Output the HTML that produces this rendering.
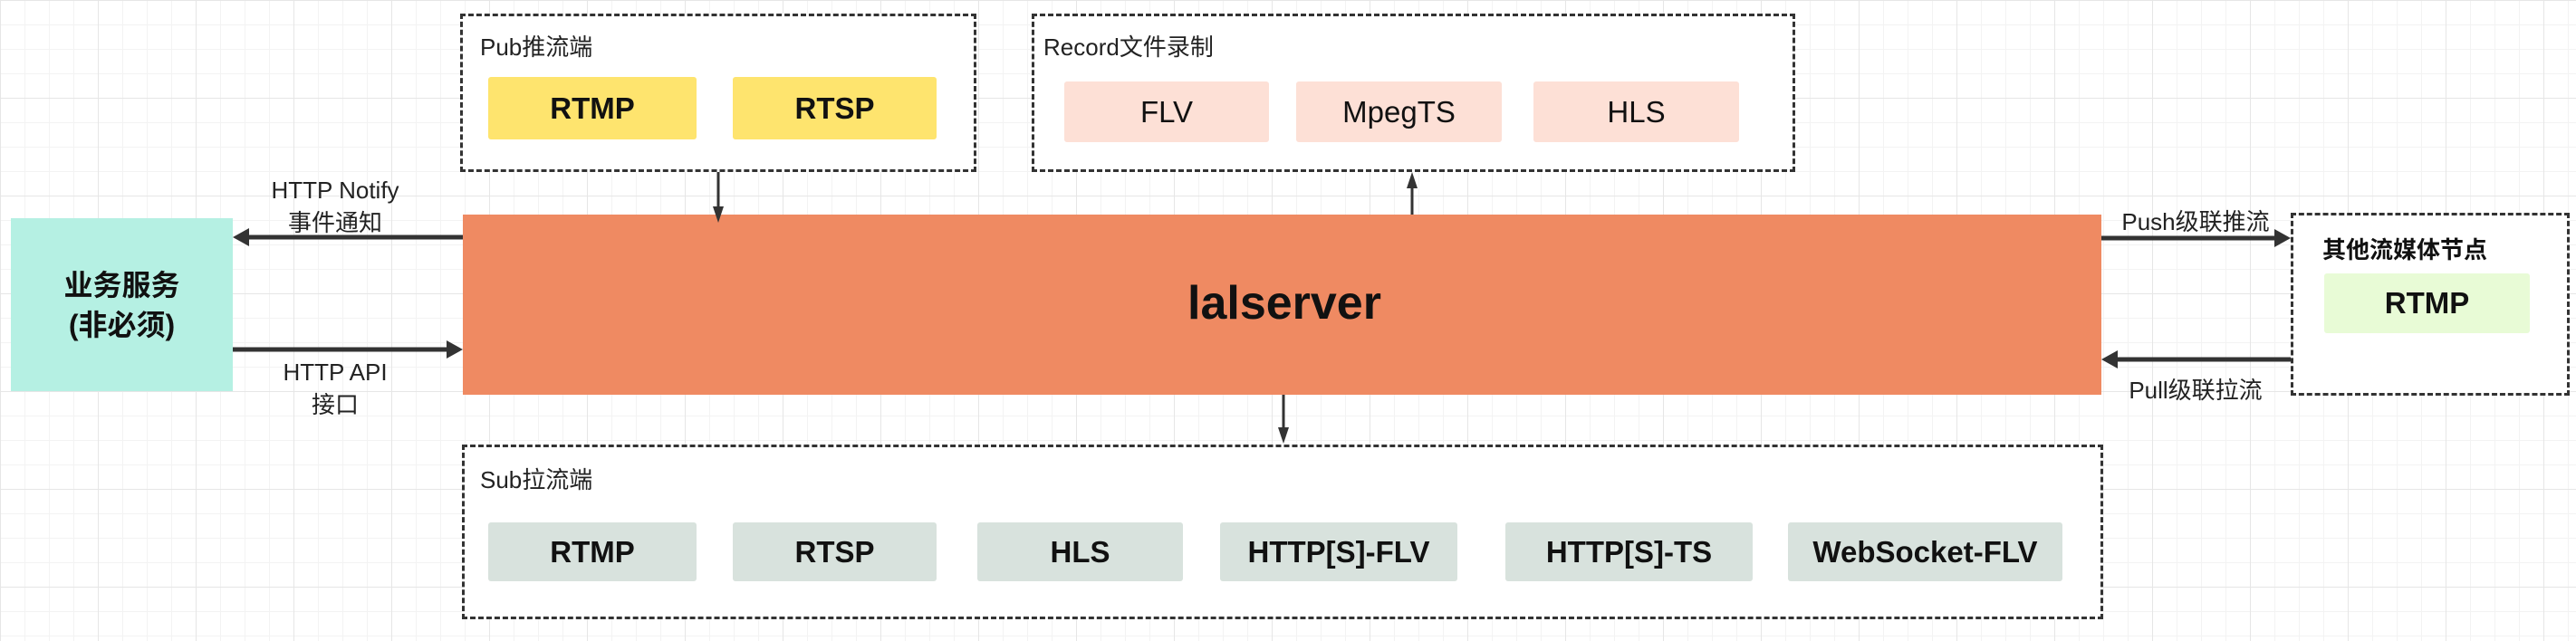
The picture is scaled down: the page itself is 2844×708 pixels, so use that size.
<!DOCTYPE html>
<html><head><meta charset="utf-8"><style>
body{margin:0;width:2844px;height:708px;overflow:hidden;position:relative;font-family:"Liberation Sans","Noto Sans CJK SC",sans-serif;
background-color:#fff;
background-image:linear-gradient(#e6e6e6 1px,transparent 1px),linear-gradient(90deg,#e6e6e6 1px,transparent 1px),linear-gradient(#f3f3f3 1px,transparent 1px),linear-gradient(90deg,#f3f3f3 1px,transparent 1px);
background-size:108px 108px,108px 108px,27px 27px,27px 27px;}
.a{position:absolute;box-sizing:border-box}
.dash{border:3px dashed #333;background:#fff}
.it{display:flex;align-items:center;justify-content:center;font-size:33px;font-weight:bold;color:#111;border-radius:3px}
.lb{font-size:26px;color:#222;white-space:nowrap}
.y{background:#fee46e}.p{background:#fde0d6}.g{background:#d8e2dd}
</style></head><body>
<div class="a dash" style="left:508px;top:15px;width:570px;height:175px"></div>
<div class="a lb" style="left:530px;top:32px">Pub推流端</div>
<div class="a it y" style="left:539px;top:85px;width:230px;height:69px">RTMP</div>
<div class="a it y" style="left:809px;top:85px;width:225px;height:69px">RTSP</div>

<div class="a dash" style="left:1139px;top:15px;width:843px;height:175px"></div>
<div class="a lb" style="left:1152px;top:32px">Record文件录制</div>
<div class="a it p" style="left:1175px;top:90px;width:226px;height:67px;font-weight:normal">FLV</div>
<div class="a it p" style="left:1431px;top:90px;width:227px;height:67px;font-weight:normal">MpegTS</div>
<div class="a it p" style="left:1693px;top:90px;width:227px;height:67px;font-weight:normal">HLS</div>

<div class="a" style="left:511px;top:237px;width:1809px;height:199px;background:#ef8a62"></div>
<div class="a" style="left:1311px;top:305px;font-size:52px;font-weight:bold;color:#111">lalserver</div>

<div class="a" style="left:12px;top:241px;width:245px;height:191px;background:#b5f0e3;display:flex;align-items:center;justify-content:center;text-align:center;font-size:32px;font-weight:bold;line-height:44px;color:#111">业务服务<br>(非必须)</div>

<div class="a dash" style="left:510px;top:491px;width:1812px;height:193px"></div>
<div class="a lb" style="left:530px;top:510px">Sub拉流端</div>
<div class="a it g" style="left:539px;top:577px;width:230px;height:65px">RTMP</div>
<div class="a it g" style="left:809px;top:577px;width:225px;height:65px">RTSP</div>
<div class="a it g" style="left:1079px;top:577px;width:227px;height:65px">HLS</div>
<div class="a it g" style="left:1347px;top:577px;width:262px;height:65px">HTTP[S]-FLV</div>
<div class="a it g" style="left:1662px;top:577px;width:273px;height:65px">HTTP[S]-TS</div>
<div class="a it g" style="left:1974px;top:577px;width:303px;height:65px">WebSocket-FLV</div>

<div class="a dash" style="left:2529px;top:235px;width:308px;height:202px"></div>
<div class="a lb" style="left:2564px;top:256px;font-weight:bold;color:#111">其他流媒体节点</div>
<div class="a it" style="left:2566px;top:302px;width:227px;height:66px;background:#e8fbd6">RTMP</div>

<div class="a lb" style="left:370px;top:195px;transform:translateX(-50%)">HTTP Notify</div>
<div class="a lb" style="left:370px;top:226px;transform:translateX(-50%)">事件通知</div>
<div class="a lb" style="left:370px;top:396px;transform:translateX(-50%)">HTTP API</div>
<div class="a lb" style="left:370px;top:427px;transform:translateX(-50%)">接口</div>
<div class="a lb" style="left:2424px;top:225px;transform:translateX(-50%)">Push级联推流</div>
<div class="a lb" style="left:2424px;top:411px;transform:translateX(-50%)">Pull级联拉流</div>

<svg class="a" style="left:0;top:0" width="2844" height="708">
<g stroke="#333" fill="#333">
<line x1="511" y1="262" x2="270" y2="262" stroke-width="5"/><polygon points="257,262 275,252 275,272" stroke="none"/>
<line x1="257" y1="386" x2="498" y2="386" stroke-width="5"/><polygon points="511,386 493,376 493,396" stroke="none"/>
<line x1="2320" y1="263" x2="2516" y2="263" stroke-width="5"/><polygon points="2529,263 2511,253 2511,273" stroke="none"/>
<line x1="2529" y1="397" x2="2333" y2="397" stroke-width="5"/><polygon points="2320,397 2338,387 2338,407" stroke="none"/>
<line x1="793" y1="190" x2="793" y2="232" stroke-width="3"/><polygon points="793,246 787,228 799,228" stroke="none"/>
<line x1="1559" y1="237" x2="1559" y2="204" stroke-width="3"/><polygon points="1559,190 1553,208 1565,208" stroke="none"/>
<line x1="1417" y1="436" x2="1417" y2="476" stroke-width="3"/><polygon points="1417,490 1411,472 1423,472" stroke="none"/>
</g></svg>
</body></html>
